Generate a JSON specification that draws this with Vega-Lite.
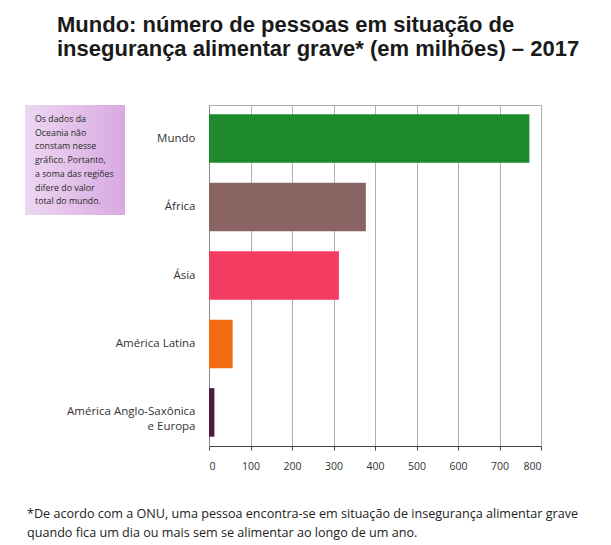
{
  "$schema": "https://vega.github.io/schema/vega-lite/v6.json",
  "padding": {"left": 25, "top": 13, "right": 5, "bottom": 5},
  "background": "white",
  "config": {"view": {"stroke": "#b0b0b0"}},
  "title": {
    "text": ["Mundo: número de pessoas em situação de", "insegurança alimentar grave* (em milhões) – 2017"],
    "anchor": "start",
    "dx": 32,
    "font": "Liberation Sans",
    "fontSize": 22,
    "fontWeight": "bold",
    "lineHeight": 24,
    "color": "#1a1a1a",
    "offset": 44
  },
  "vconcat": [
    {
      "title": {
        "text": ["*De acordo com a ONU, uma pessoa encontra-se em situação de insegurança alimentar grave", "quando fica um dia ou mais sem se alimentar ao longo de um ano."],
        "orient": "bottom",
        "anchor": "start",
        "dx": 2,
        "offset": 36,
        "font": "Open Sans",
        "fontSize": 12.6,
        "fontWeight": "normal",
        "lineHeight": 19,
        "color": "#222222"
      },
      "bounds": "flush",
      "spacing": 84,
      "hconcat": [
        {
          "width": 100,
          "height": 110,
          "view": {"stroke": null},
          "layer": [
            {
              "data": {"values": [{"caixa": "nota"}]},
              "mark": {
                "type": "rect",
                "color": {
                  "gradient": "linear",
                  "x1": 0, "x2": 1, "y1": 0, "y2": 0,
                  "stops": [
                    {"offset": 0, "color": "#edd7f1"},
                    {"offset": 1, "color": "#d8a9e1"}
                  ]
                }
              },
              "encoding": {}
            },
            {
              "data": {"values": [
                {"linha": 1, "texto": "Os dados da"},
                {"linha": 2, "texto": "Oceania não"},
                {"linha": 3, "texto": "constam nesse"},
                {"linha": 4, "texto": "gráfico. Portanto,"},
                {"linha": 5, "texto": "a soma das regiões"},
                {"linha": 6, "texto": "difere do valor"},
                {"linha": 7, "texto": "total do mundo."}
              ]},
              "mark": {"type": "text", "align": "left", "baseline": "middle", "dx": -40, "font": "Open Sans", "fontSize": 8.8, "color": "#2a2a2a"},
              "encoding": {
                "y": {"field": "linha", "type": "ordinal", "scale": {"type": "point", "padding": 1}, "axis": null},
                "text": {"field": "texto"}
              }
            }
          ]
        },
        {
          "width": 332,
          "height": 341,
          "data": {"values": [
            {"regiao": "Mundo", "pessoas": 772},
            {"regiao": "África", "pessoas": 378},
            {"regiao": "Ásia", "pessoas": 313},
            {"regiao": "América Latina", "pessoas": 57},
            {"regiao": "América Anglo-Saxônica e Europa", "pessoas": 13}
          ]},
          "mark": {"type": "bar"},
          "encoding": {
            "y": {
              "field": "regiao",
              "type": "nominal",
              "sort": null,
              "scale": {"paddingInner": 0.29, "paddingOuter": 0.135},
              "axis": {
                "title": null,
                "ticks": false,
                "domain": true,
                "domainColor": "#888888",
                "labelPadding": 14,
                "labelFont": "Open Sans",
                "labelFontSize": 11.5,
                "labelColor": "#333333",
                "labelLineHeight": 15,
                "labelExpr": "datum.label == 'América Anglo-Saxônica e Europa' ? ['América Anglo-Saxônica', 'e Europa'] : datum.label"
              }
            },
            "x": {
              "field": "pessoas",
              "type": "quantitative",
              "scale": {"domain": [0, 800], "nice": false},
              "axis": {
                "title": null,
                "values": [0, 100, 200, 300, 400, 500, 600, 700, 800],
                "grid": true,
                "gridColor": "#b0b0b0",
                "domainColor": "#444444",
                "tickColor": "#444444",
                "tickSize": 4,
                "labelPadding": 11,
                "labelFont": "Open Sans",
                "labelFontSize": 10.5,
                "labelColor": "#333333"
              }
            },
            "color": {
              "field": "regiao",
              "type": "nominal",
              "scale": {
                "domain": ["Mundo", "África", "Ásia", "América Latina", "América Anglo-Saxônica e Europa"],
                "range": ["#1f8a2c", "#8a6462", "#f23c61", "#f26a12", "#4b1b3d"]
              },
              "legend": null
            }
          }
        }
      ]
    }
  ]
}
